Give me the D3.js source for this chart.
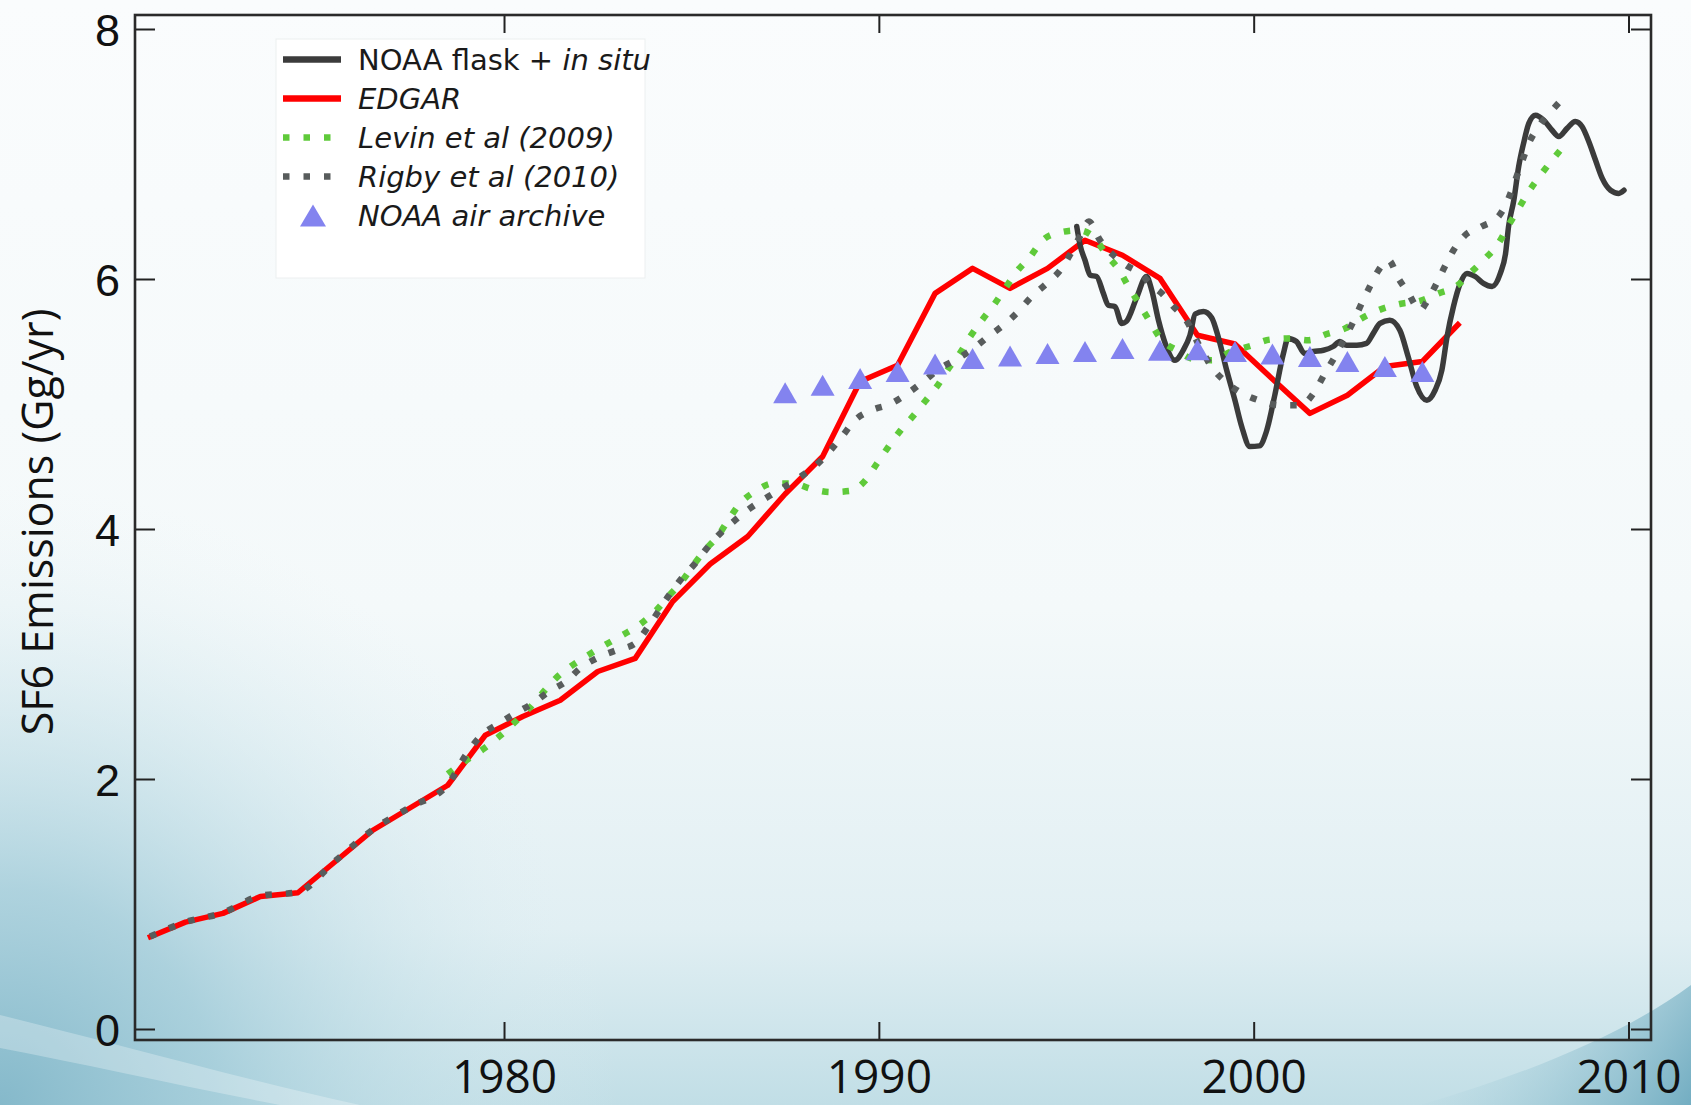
<!DOCTYPE html>
<html>
<head>
<meta charset="utf-8">
<script src="https://cdn.jsdelivr.net/npm/d3@7"></script>
<style>
  html, body { margin: 0; padding: 0; background: #fafcfd; }
  svg { display: block; }
</style>
</head>
<body>
<svg id="chart" width="1691" height="1105"></svg>
<script>
// ---- Data: SF6 emissions (Gg/yr) ----
const xTicks = [1980, 1990, 2000, 2010];
const yTicks = [0, 2, 4, 6, 8];

// EDGAR inventory, annual values plotted at mid-year
const edgarYears = [1970.5, 1971.5, 1972.5, 1973.5, 1974.5, 1975.5, 1976.5, 1977.5, 1978.5, 1979.5,
  1980.5, 1981.5, 1982.5, 1983.5, 1984.5, 1985.5, 1986.5, 1987.5, 1988.5, 1989.5,
  1990.5, 1991.5, 1992.5, 1993.5, 1994.5, 1995.5, 1996.5, 1997.5, 1998.5, 1999.5,
  2000.5, 2001.5, 2002.5, 2003.5, 2004.5, 2005.5];
const edgarValues = [0.73, 0.855, 0.925, 1.06, 1.09, 1.34, 1.59, 1.77, 1.95, 2.35,
  2.5, 2.63, 2.86, 2.965, 3.42, 3.72, 3.94, 4.28, 4.58, 5.18,
  5.31, 5.885, 6.085, 5.925, 6.085, 6.31, 6.19, 6.005, 5.55, 5.48,
  5.2, 4.925, 5.07, 5.3, 5.34, 5.65];

// NOAA flask + in situ
const noaaYears = [1995.28, 1995.37, 1995.5, 1995.64, 1995.81, 1995.99, 1996.12, 1996.3, 1996.48, 1996.6,
  1996.87, 1997.14, 1997.28, 1997.46, 1997.64, 1997.9, 1998.12, 1998.3, 1998.44, 1998.66,
  1998.88, 1999.06, 1999.28, 1999.5, 1999.68, 1999.9, 2000.15, 2000.34, 2000.57, 2000.79,
  2000.92, 2001.14, 2001.36, 2001.59, 2001.86, 2002.12, 2002.3, 2002.48, 2002.75, 2003.01,
  2003.19, 2003.37, 2003.63, 2003.9, 2004.12, 2004.35, 2004.62, 2004.84, 2005.02, 2005.16,
  2005.33, 2005.51, 2005.69, 2005.91, 2006.13, 2006.36, 2006.58, 2006.72, 2006.8, 2006.94,
  2007.07, 2007.2, 2007.34, 2007.52, 2007.74, 2007.96, 2008.14, 2008.36, 2008.58, 2008.76,
  2008.94, 2009.12, 2009.3, 2009.52, 2009.74, 2009.88];
const noaaValues = [6.42, 6.27, 6.15, 6.03, 6.02, 5.885, 5.79, 5.78, 5.645, 5.66,
  5.845, 6.02, 5.91, 5.67, 5.485, 5.35, 5.43, 5.55, 5.72, 5.74,
  5.69, 5.53, 5.27, 5.03, 4.82, 4.66, 4.665, 4.78, 5.08, 5.4,
  5.525, 5.5, 5.405, 5.42, 5.43, 5.46, 5.5, 5.47, 5.47, 5.485,
  5.565, 5.645, 5.67, 5.59, 5.38, 5.14, 5.03, 5.11, 5.27, 5.54,
  5.78, 5.965, 6.045, 6.02, 5.965, 5.94, 6.045, 6.205, 6.42, 6.63,
  6.9, 7.085, 7.245, 7.31, 7.27, 7.19, 7.14, 7.205, 7.26, 7.22,
  7.1, 6.95, 6.805, 6.71, 6.685, 6.71];

// Levin et al (2009)
const levinYears = [1978.5, 1978.9, 1979.47, 1979.91, 1980.31, 1980.67, 1981.02, 1981.38, 1981.8, 1982.24,
  1982.68, 1983.15, 1983.64, 1984.03, 1984.38, 1984.74, 1985.05, 1985.36, 1985.72, 1985.98,
  1986.3, 1986.7, 1987.19, 1987.7, 1988.21, 1988.71, 1989.25, 1989.63, 1989.94, 1990.25,
  1990.57, 1990.89, 1991.23, 1991.56, 1991.85, 1992.17, 1992.45, 1992.75, 1993.06, 1993.37,
  1993.68, 1994.04, 1994.37, 1994.79, 1995.32, 1995.72, 1996.08, 1996.39, 1996.66, 1996.97,
  1997.23, 1997.55, 1997.95, 1998.39, 1998.88, 1999.41, 1999.92, 2000.43, 2000.97, 2001.46,
  2001.95, 2002.44, 2002.88, 2003.37, 2003.9, 2004.44, 2004.93, 2005.42, 2005.82, 2006.18,
  2006.53, 2006.8, 2007.07, 2007.34, 2007.65, 2007.96, 2008.32];
const levinValues = [2.04, 2.13, 2.245, 2.35, 2.46, 2.565, 2.685, 2.805, 2.905, 2.99,
  3.07, 3.15, 3.24, 3.34, 3.46, 3.58, 3.71, 3.83, 3.95, 4.07,
  4.205, 4.3, 4.365, 4.365, 4.32, 4.295, 4.305, 4.385, 4.52, 4.655,
  4.785, 4.895, 5.02, 5.145, 5.28, 5.41, 5.545, 5.67, 5.79, 5.925,
  6.06, 6.18, 6.31, 6.37, 6.39, 6.34, 6.19, 6.08, 5.94, 5.79,
  5.66, 5.51, 5.43, 5.36, 5.35, 5.42, 5.465, 5.515, 5.525, 5.51,
  5.56, 5.605, 5.685, 5.755, 5.8, 5.825, 5.885, 5.945, 6.06, 6.165,
  6.285, 6.43, 6.565, 6.7, 6.83, 6.95, 7.08];

// Rigby et al (2010)
const rigbyYears = [1970.56, 1971.5, 1972.5, 1973.5, 1974.5, 1975.5, 1976.5, 1977.5, 1978.5, 1979.0,
  1979.4, 1979.87, 1980.3, 1980.76, 1981.2, 1981.65, 1982.05, 1982.5, 1983.0, 1983.5,
  1983.85, 1984.38, 1984.74, 1985.1, 1985.41, 1985.72, 1986.16, 1986.56, 1987.0, 1987.5,
  1987.92, 1988.36, 1988.68, 1989.03, 1989.36, 1989.81, 1990.3, 1990.74, 1991.19, 1991.63,
  1992.08, 1992.5, 1992.92, 1993.32, 1993.72, 1994.08, 1994.48, 1994.84, 1995.15, 1995.4,
  1995.6, 1995.9, 1996.26, 1996.6, 1996.97, 1997.28, 1997.55, 1997.86, 1998.2, 1998.56,
  1998.92, 1999.28, 1999.7, 2000.19, 2000.7, 2001.23, 2001.63, 2001.9, 2002.17, 2002.4,
  2002.66, 2002.88, 2003.1, 2003.33, 2003.6, 2003.86, 2004.13, 2004.44, 2004.62, 2004.88,
  2005.1, 2005.33, 2005.64, 2006.08, 2006.53, 2006.8, 2006.98, 2007.16, 2007.34, 2007.6,
  2007.96, 2008.33];
const rigbyValues = [0.74, 0.855, 0.93, 1.065, 1.095, 1.345, 1.595, 1.775, 1.955, 2.2,
  2.35, 2.445, 2.525, 2.605, 2.7, 2.78, 2.89, 2.97, 3.03, 3.085,
  3.22, 3.46, 3.605, 3.725, 3.845, 3.95, 4.07, 4.165, 4.25, 4.34,
  4.42, 4.52, 4.62, 4.745, 4.87, 4.95, 5.0, 5.08, 5.18, 5.285,
  5.36, 5.44, 5.54, 5.63, 5.74, 5.86, 5.965, 6.07, 6.22, 6.36,
  6.46, 6.31, 6.19, 6.11, 6.045, 5.95, 5.885, 5.78, 5.67, 5.46,
  5.28, 5.17, 5.085, 5.025, 4.99, 4.99, 5.1, 5.245, 5.38, 5.51,
  5.66, 5.805, 5.94, 6.07, 6.15, 6.005, 5.885, 5.75, 5.82, 5.965,
  6.1, 6.23, 6.35, 6.42, 6.5, 6.645, 6.79, 6.94, 7.085, 7.22,
  7.35, 7.47];

// NOAA air archive samples
const archiveYears = [1987.5, 1988.5, 1989.5, 1990.5, 1991.5, 1992.5, 1993.5, 1994.5, 1995.5,
  1996.5, 1997.5, 1998.5, 1999.5, 2000.5, 2001.5, 2002.5, 2003.5, 2004.5];
const archiveValues = [5.09, 5.15, 5.205, 5.26, 5.32, 5.365, 5.385, 5.405, 5.42,
  5.445, 5.43, 5.435, 5.42, 5.4, 5.38, 5.34, 5.3, 5.26];

const legendLabels = [
  [{ t: "NOAA flask + ", it: false }, { t: "in situ", it: true }],
  [{ t: "EDGAR", it: true }],
  [{ t: "Levin et al (2009)", it: true }],
  [{ t: "Rigby et al (2010)", it: true }],
  [{ t: "NOAA air archive", it: true }]
];

// ---- Layout ----
const W = 1691, H = 1105;
const frame = { left: 135, right: 1651, top: 15, bottom: 1040 };
const COLORS = { noaa: "#3b3b3b", edgar: "#ff0000", levin: "#5fca3a", rigby: "#585c5c", archive: "#8383ef" };

const svg = d3.select("#chart");
const defs = svg.append("defs");

// Slide-style background: white fading into pale teal at the bottom
const bgGrad = defs.append("linearGradient").attr("id", "bgGrad").attr("x1", 0).attr("y1", 0).attr("x2", 0).attr("y2", 1);
[[0, "#fafcfd"], [0.55, "#f4f9fa"], [0.84, "#e1eff3"], [1, "#c1dee6"]].forEach(([o, c]) =>
  bgGrad.append("stop").attr("offset", o).attr("stop-color", c));
svg.append("rect").attr("width", W).attr("height", H).attr("fill", "url(#bgGrad)");

// soft teal glow in the lower-left corner
const glow = defs.append("radialGradient").attr("id", "glowLeft")
  .attr("gradientUnits", "userSpaceOnUse").attr("cx", 0).attr("cy", 1105).attr("r", 620);
[[0, "#82b7c9", 0.95], [0.35, "#9dc9d7", 0.75], [0.7, "#c4e0e8", 0.35], [1, "#e6f2f5", 0]].forEach(([o, c, a]) =>
  glow.append("stop").attr("offset", o).attr("stop-color", c).attr("stop-opacity", a));
svg.append("rect").attr("x", 0).attr("y", 480).attr("width", 640).attr("height", 625).attr("fill", "url(#glowLeft)");

// pale diagonal streak across the corner
svg.append("path")
  .attr("d", "M0,1015 C110,1042 230,1076 360,1105 L280,1105 C180,1086 85,1064 0,1048 Z")
  .attr("fill", "#ffffff").attr("opacity", 0.28);

const cornerGrad = defs.append("linearGradient").attr("id", "cornerGrad")
  .attr("gradientUnits", "userSpaceOnUse").attr("x1", 1691).attr("y1", 1105).attr("x2", 1480).attr("y2", 980);
[[0, "#6fabc0", 0.95], [1, "#a7cfdb", 0]].forEach(([o, c, a]) =>
  cornerGrad.append("stop").attr("offset", o).attr("stop-color", c).attr("stop-opacity", a));
svg.append("path").attr("d", "M1420,1105 C1540,1070 1630,1030 1691,985 L1691,1105 Z").attr("fill", "url(#cornerGrad)");

// ---- Scales ----
const x = d3.scaleLinear().domain([1970.155, 2010.6]).range([frame.left, frame.right]);
const y = d3.scaleLinear().domain([-0.088, 8.112]).range([frame.bottom, frame.top]);

// ---- Axes (ticks point inward on all four sides) ----
function styleAxis(g, showText, size, family) {
  g.select(".domain").remove();
  g.selectAll(".tick line").attr("stroke", "#222").attr("stroke-width", 2);
  g.attr("font-family", family || "'Open Sans', 'Noto Sans', sans-serif").attr("font-size", size || 47);
  g.selectAll(".tick text").attr("fill", "#111");
  if (!showText) g.selectAll(".tick text").remove();
}
svg.append("g").attr("transform", `translate(0,${frame.bottom})`)
  .call(d3.axisBottom(x).tickValues(xTicks).tickFormat(d3.format("d")).tickSizeInner(-18).tickSizeOuter(0).tickPadding(20))
  .call(g => styleAxis(g, true, 46));
svg.append("g").attr("transform", `translate(0,${frame.top})`)
  .call(d3.axisTop(x).tickValues(xTicks).tickSizeInner(-18).tickSizeOuter(0))
  .call(g => styleAxis(g, false));
svg.append("g").attr("transform", `translate(${frame.left},0)`)
  .call(d3.axisLeft(y).tickValues(yTicks).tickFormat(d3.format("d")).tickSizeInner(-20).tickSizeOuter(0).tickPadding(15))
  .call(g => styleAxis(g, true, 45, "'Liberation Sans', Arial, sans-serif"))
  .call(g => g.selectAll(".tick text").attr("dy", "0.36em"));
svg.append("g").attr("transform", `translate(${frame.right},0)`)
  .call(d3.axisRight(y).tickValues(yTicks).tickSizeInner(-20).tickSizeOuter(0))
  .call(g => styleAxis(g, false));

svg.append("rect")
  .attr("x", frame.left).attr("y", frame.top)
  .attr("width", frame.right - frame.left).attr("height", frame.bottom - frame.top)
  .attr("fill", "none").attr("stroke", "#2a2a2a").attr("stroke-width", 2.6);

svg.append("text")
  .attr("transform", "translate(53,522) rotate(-90)")
  .attr("text-anchor", "middle")
  .attr("font-family", "'Open Sans', 'Noto Sans', sans-serif")
  .attr("font-size", 43).attr("fill", "#111")
  .text("SF6 Emissions (Gg/yr)");

// ---- Series ----
const zip = (xs, vs) => xs.map((yr, i) => ({ yr, v: vs[i] }));
const lineLinear = d3.line().x(d => x(d.yr)).y(d => y(d.v));
const lineSmooth = d3.line().x(d => x(d.yr)).y(d => y(d.v)).curve(d3.curveMonotoneX);
const plot = svg.append("g");

plot.append("path").datum(zip(edgarYears, edgarValues))
  .attr("d", lineLinear).attr("fill", "none")
  .attr("stroke", COLORS.edgar).attr("stroke-width", 5.5).attr("stroke-linejoin", "round");

plot.append("path").datum(zip(noaaYears, noaaValues))
  .attr("d", lineSmooth).attr("fill", "none")
  .attr("stroke", COLORS.noaa).attr("stroke-width", 5.5).attr("stroke-linejoin", "round").attr("stroke-linecap", "round");

plot.append("path").datum(zip(levinYears, levinValues))
  .attr("d", lineSmooth).attr("fill", "none")
  .attr("stroke", COLORS.levin).attr("stroke-width", 6.5).attr("stroke-dasharray", "6.5 14");

plot.append("path").datum(zip(rigbyYears, rigbyValues))
  .attr("d", lineSmooth).attr("fill", "none")
  .attr("stroke", COLORS.rigby).attr("stroke-width", 6.5).attr("stroke-dasharray", "6.5 14");

// Upward triangle centred on its bounding box
const triangle = (cx, cy, w, h) => `M${cx},${cy - h / 2}L${cx + w / 2},${cy + h / 2}L${cx - w / 2},${cy + h / 2}Z`;
plot.selectAll("path.archive").data(zip(archiveYears, archiveValues)).join("path")
  .attr("class", "archive")
  .attr("d", d => triangle(x(d.yr), y(d.v), 24, 21))
  .attr("fill", COLORS.archive);

// ---- Legend ----
const legend = svg.append("g");
legend.append("rect").attr("x", 276).attr("y", 39).attr("width", 369).attr("height", 239)
  .attr("fill", "#ffffff").attr("stroke", "#eceff0").attr("stroke-width", 1);
const legendStyles = [
  { kind: "solid", color: COLORS.noaa },
  { kind: "solid", color: COLORS.edgar },
  { kind: "dot", color: COLORS.levin },
  { kind: "dot", color: COLORS.rigby },
  { kind: "tri", color: COLORS.archive }
];
legendStyles.forEach((s, i) => {
  const cy = 59.5 + i * 39;
  if (s.kind === "solid") {
    legend.append("line").attr("x1", 283).attr("x2", 341).attr("y1", cy).attr("y2", cy)
      .attr("stroke", s.color).attr("stroke-width", 6.5);
  } else if (s.kind === "dot") {
    legend.append("line").attr("x1", 283).attr("x2", 332).attr("y1", cy).attr("y2", cy)
      .attr("stroke", s.color).attr("stroke-width", 6.5).attr("stroke-dasharray", "6.5 14");
  } else {
    legend.append("path").attr("d", triangle(313, cy, 26, 22)).attr("fill", s.color);
  }
  const t = legend.append("text").attr("x", 358).attr("y", cy + 10.5)
    .attr("font-family", "'DejaVu Sans', sans-serif").attr("font-size", 29).attr("fill", "#1a1a1a");
  legendLabels[i].forEach(part => {
    t.append("tspan").attr("font-style", part.it ? "italic" : "normal").text(part.t);
  });
});
</script>
</body>
</html>
